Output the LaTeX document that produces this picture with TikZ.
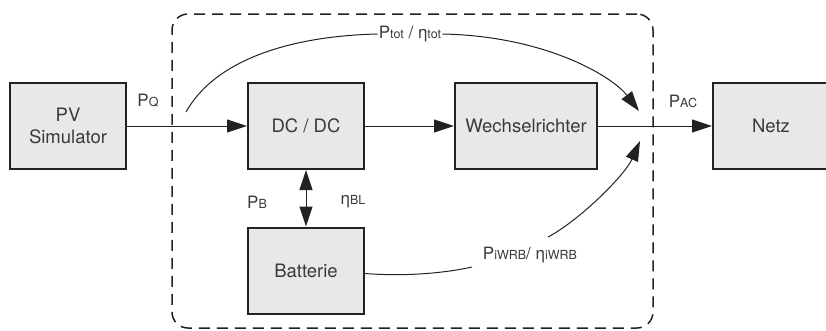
\documentclass[tikz,border=0pt]{standalone}
\usepackage{fontspec}
\setmainfont{TeX Gyre Heros}
\usetikzlibrary{arrows.meta}
\definecolor{boxfill}{HTML}{E8E8E8}
\definecolor{txt}{HTML}{3A3A3A}
\definecolor{ln}{HTML}{222222}
\newcommand\boxf{\fontsize{18.5}{22}\selectfont}
\newcommand\labf{\fontsize{17}{20}\selectfont}
\newcommand\subf{\fontsize{12.5}{14}\selectfont}
\tikzset{
  blk/.style={draw=ln, line width=2pt, fill=boxfill, minimum width=116pt,
    minimum height=86pt, inner sep=0pt, text=txt, font=\boxf, align=center},
  conn/.style={draw=ln, line width=1pt},
  tip/.tip={Triangle[length=20pt,width=13pt]},
  arr/.style={conn, -tip},
  darr/.style={conn, tip-tip},
  lbl/.style={text=txt, font=\labf, inner sep=1pt},
  sysbox/.style={draw=ln, line width=1.5pt, dash pattern=on 11pt off 7pt,
    rounded corners=16pt, minimum width=481pt, minimum height=314pt, inner sep=0pt}
}
\begin{document}
\begin{tikzpicture}[x=1pt,y=-1pt]
\useasboundingbox (0,0) rectangle (826,330);
\fill[white] (0,0) rectangle (826,330);
\node[sysbox] (sys) at (412.5,171) {};
\node[blk] (pv) at (68,126) {PV\\Simulator};
\node[blk] (dc) at (306,126) {DC / DC};
\node[blk, minimum width=142pt] (wr) at (526,126) {Wechselrichter};
\node[blk] (netz) at (771,126) {Netz};
\node[blk] (bat) at (306,270.5) {Batterie};
\draw[arr] (pv) -- (dc);
\draw[arr] (dc) -- (wr);
\draw[arr] (wr) -- (netz);
\draw[darr] (dc) -- (bat);
\node[lbl] (pq) at (148,101) {P{\subf Q}};
\node[lbl] (pac) at (683,101) {P{\subf AC}};
\node[lbl] (pb) at (257,202) {P{\subf B}};
\node[lbl] (ebl) at (353,202) {η{\subf BL}};
\node[lbl] (tot) at (410,34) {P{\subf tot} / η{\subf tot}};
\node[lbl] (iw) at (530,255) {P{\subf iWRB}/ η{\subf iWRB}};
\coordinate (t0) at (186,112);
\coordinate (tend) at (639,111);
\coordinate (b1) at (472,267);
\coordinate (b2) at (548,237);
\coordinate (bend) at (640,141);
\draw[conn] (t0) .. controls (215,60) and (290,36) .. (tot.west);
\draw[arr] (tot.east) .. controls (545,36) and (612,76) .. (tend);
\draw[conn] ([yshift=-3pt]bat.east) .. controls (410,277) and (450,272) .. (b1);
\draw[arr] (b2) .. controls (580,220) and (625,175) .. (bend);
\end{tikzpicture}
\end{document}
